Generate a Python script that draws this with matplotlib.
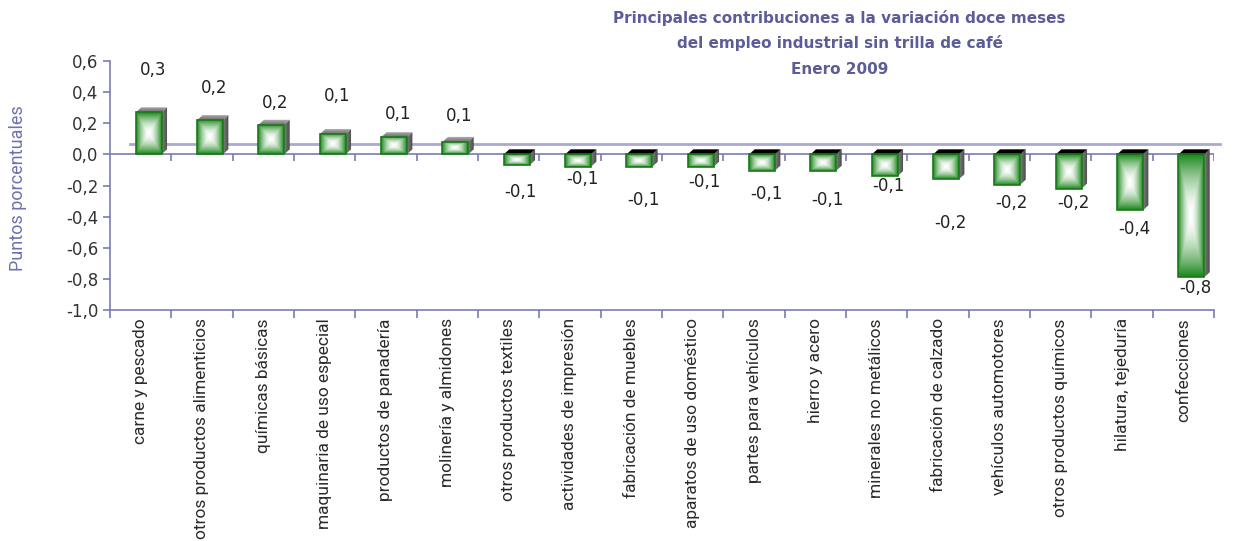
import numpy as np
import matplotlib.pyplot as plt
from matplotlib.patches import Polygon, Rectangle
from matplotlib.colors import to_rgb

# data
categorias = ['carne y pescado', 'otros productos alimenticios', 'químicas básicas',
              'maquinaria de uso especial', 'productos de panadería', 'molinería y almidones',
              'otros productos textiles', 'actividades de impresión', 'fabricación de muebles',
              'aparatos de uso doméstico', 'partes para vehículos', 'hierro y acero',
              'minerales no metálicos', 'fabricación de calzado', 'vehículos automotores',
              'otros productos químicos', 'hilatura, tejeduría', 'confecciones']
valores = [0.27, 0.22, 0.19, 0.13, 0.11, 0.08,
           -0.07, -0.08, -0.08, -0.08, -0.105, -0.105,
           -0.14, -0.16, -0.195, -0.22, -0.36, -0.79]
etiquetas = ['0,3', '0,2', '0,2', '0,1', '0,1', '0,1',
             '-0,1', '-0,1', '-0,1', '-0,1', '-0,1', '-0,1',
             '-0,1', '-0,2', '-0,2', '-0,2', '-0,4', '-0,8']
# label distance from bar end (axis units), as placed in the original
label_dy = [0.27, 0.21, 0.14, 0.245, 0.15, 0.17,
            -0.17, -0.08, -0.21, -0.10, -0.15, -0.19,
            -0.06, -0.28, -0.12, -0.09, -0.12, -0.07]
yticks = np.arange(-1.0, 0.61, 0.2)

lav = '#7b7bb3'
green = np.array(to_rgb('#1c871c'))

fig = plt.figure(figsize=(12.33, 5.41), dpi=100)
ax = fig.add_axes([0.0892, 0.427, 0.8954, 0.46])
ax.set_xlim(0, len(categorias))
ax.set_ylim(-1.0, 0.6)

# box gradient for front faces (green rim -> white centre)
n = 100
u = np.linspace(-1, 1, n)
U, V = np.meshgrid(u, u)
t = np.maximum(np.abs(U), np.abs(V)) ** 1.7
front = (1 - t)[..., None] * np.ones(3) + t[..., None] * green
side = np.linspace(0.50, 0.28, n)[None, :, None] * np.ones((n, 1, 3))
topg = np.linspace(0.72, 0.42, n)[:, None, None] * np.ones((1, n, 3))

# back wall line
ax.plot([0.33, 18.1], [0.07, 0.07], color='#aaaacc', lw=2, zorder=1, clip_on=False)

# zero axis with ticks
ax.plot([0, 18], [0, 0], color=lav, lw=1.2, zorder=2)
ax.vlines(np.arange(1, 19), -0.04, 0, color=lav, lw=1.2, zorder=2)

dx, dy = 0.09, 0.033
for i, v in enumerate(valores):
    x0, x1 = i + 0.42, i + 0.84
    y0, y1 = min(0, v), max(0, v)
    ax.imshow(front, extent=[x0, x1, y0, y1], aspect='auto', interpolation='bilinear', zorder=4)
    ax.add_patch(Rectangle((x0, y0), x1 - x0, y1 - y0, fill=False, ec='#1a7a1a', lw=1.2, zorder=5))
    sp = Polygon([(x1, y0), (x1 + dx, y0 + dy), (x1 + dx, y1 + dy), (x1, y1)], closed=True,
                 fc='none', ec='none')
    ax.add_patch(sp)
    im = ax.imshow(side, extent=[x1, x1 + dx, y0, y1 + dy], aspect='auto', interpolation='bilinear', zorder=4)
    im.set_clip_path(sp)
    tp = Polygon([(x0, y1), (x1, y1), (x1 + dx, y1 + dy), (x0 + dx, y1 + dy)], closed=True,
                 fc='black' if v < 0 else 'none', ec='none', zorder=4)
    ax.add_patch(tp)
    if v >= 0:
        im2 = ax.imshow(topg, extent=[x0, x1 + dx, y1, y1 + dy], aspect='auto', interpolation='bilinear', zorder=4)
        im2.set_clip_path(tp)
    ax.text(i + 0.7, v + label_dy[i], etiquetas[i], ha='center', va='center',
            fontsize=12, color='#222222', zorder=6)

ax.set_xlim(0, len(categorias))
ax.set_ylim(-1.0, 0.6)

for s in ['top', 'right']:
    ax.spines[s].set_visible(False)
for s in ['left', 'bottom']:
    ax.spines[s].set_color(lav)
    ax.spines[s].set_linewidth(1.2)

ax.set_yticks(yticks)
ax.set_yticklabels([f'{y:.1f}'.replace('.', ',').replace('-0,0', '0,0') for y in yticks])
ax.tick_params(axis='y', colors=lav, labelcolor='#333333', labelsize=12, length=5, width=1.2)

ax.set_xticks(np.arange(0, 19))
ax.set_xticklabels([])
ax.tick_params(axis='x', which='major', colors=lav, length=6, width=1.2)
ax.set_xticks(np.arange(len(categorias)) + 0.5, minor=True)
ax.set_xticklabels(categorias, minor=True, rotation=90, va='top', ha='center',
                   fontsize=12.5, color='#2a2a2a', family='Roboto')
ax.tick_params(axis='x', which='minor', length=0, pad=6)

tc = '#5c5c98'
fig.text(0.681, 0.967, 'Principales contribuciones a la variación doce meses', ha='center', va='center',
         fontsize=11, fontweight='bold', color=tc)
fig.text(0.681, 0.921, 'del empleo industrial sin trilla de café', ha='center', va='center',
         fontsize=11, fontweight='bold', color=tc)
fig.text(0.681, 0.872, 'Enero 2009', ha='center', va='center',
         fontsize=11, fontweight='bold', color=tc)
fig.text(0.0146, 0.652, 'Puntos porcentuales', rotation=90, ha='center', va='center',
         fontsize=13, color='#7070b0', family='Roboto')

fig.savefig('out.png', dpi=100)
